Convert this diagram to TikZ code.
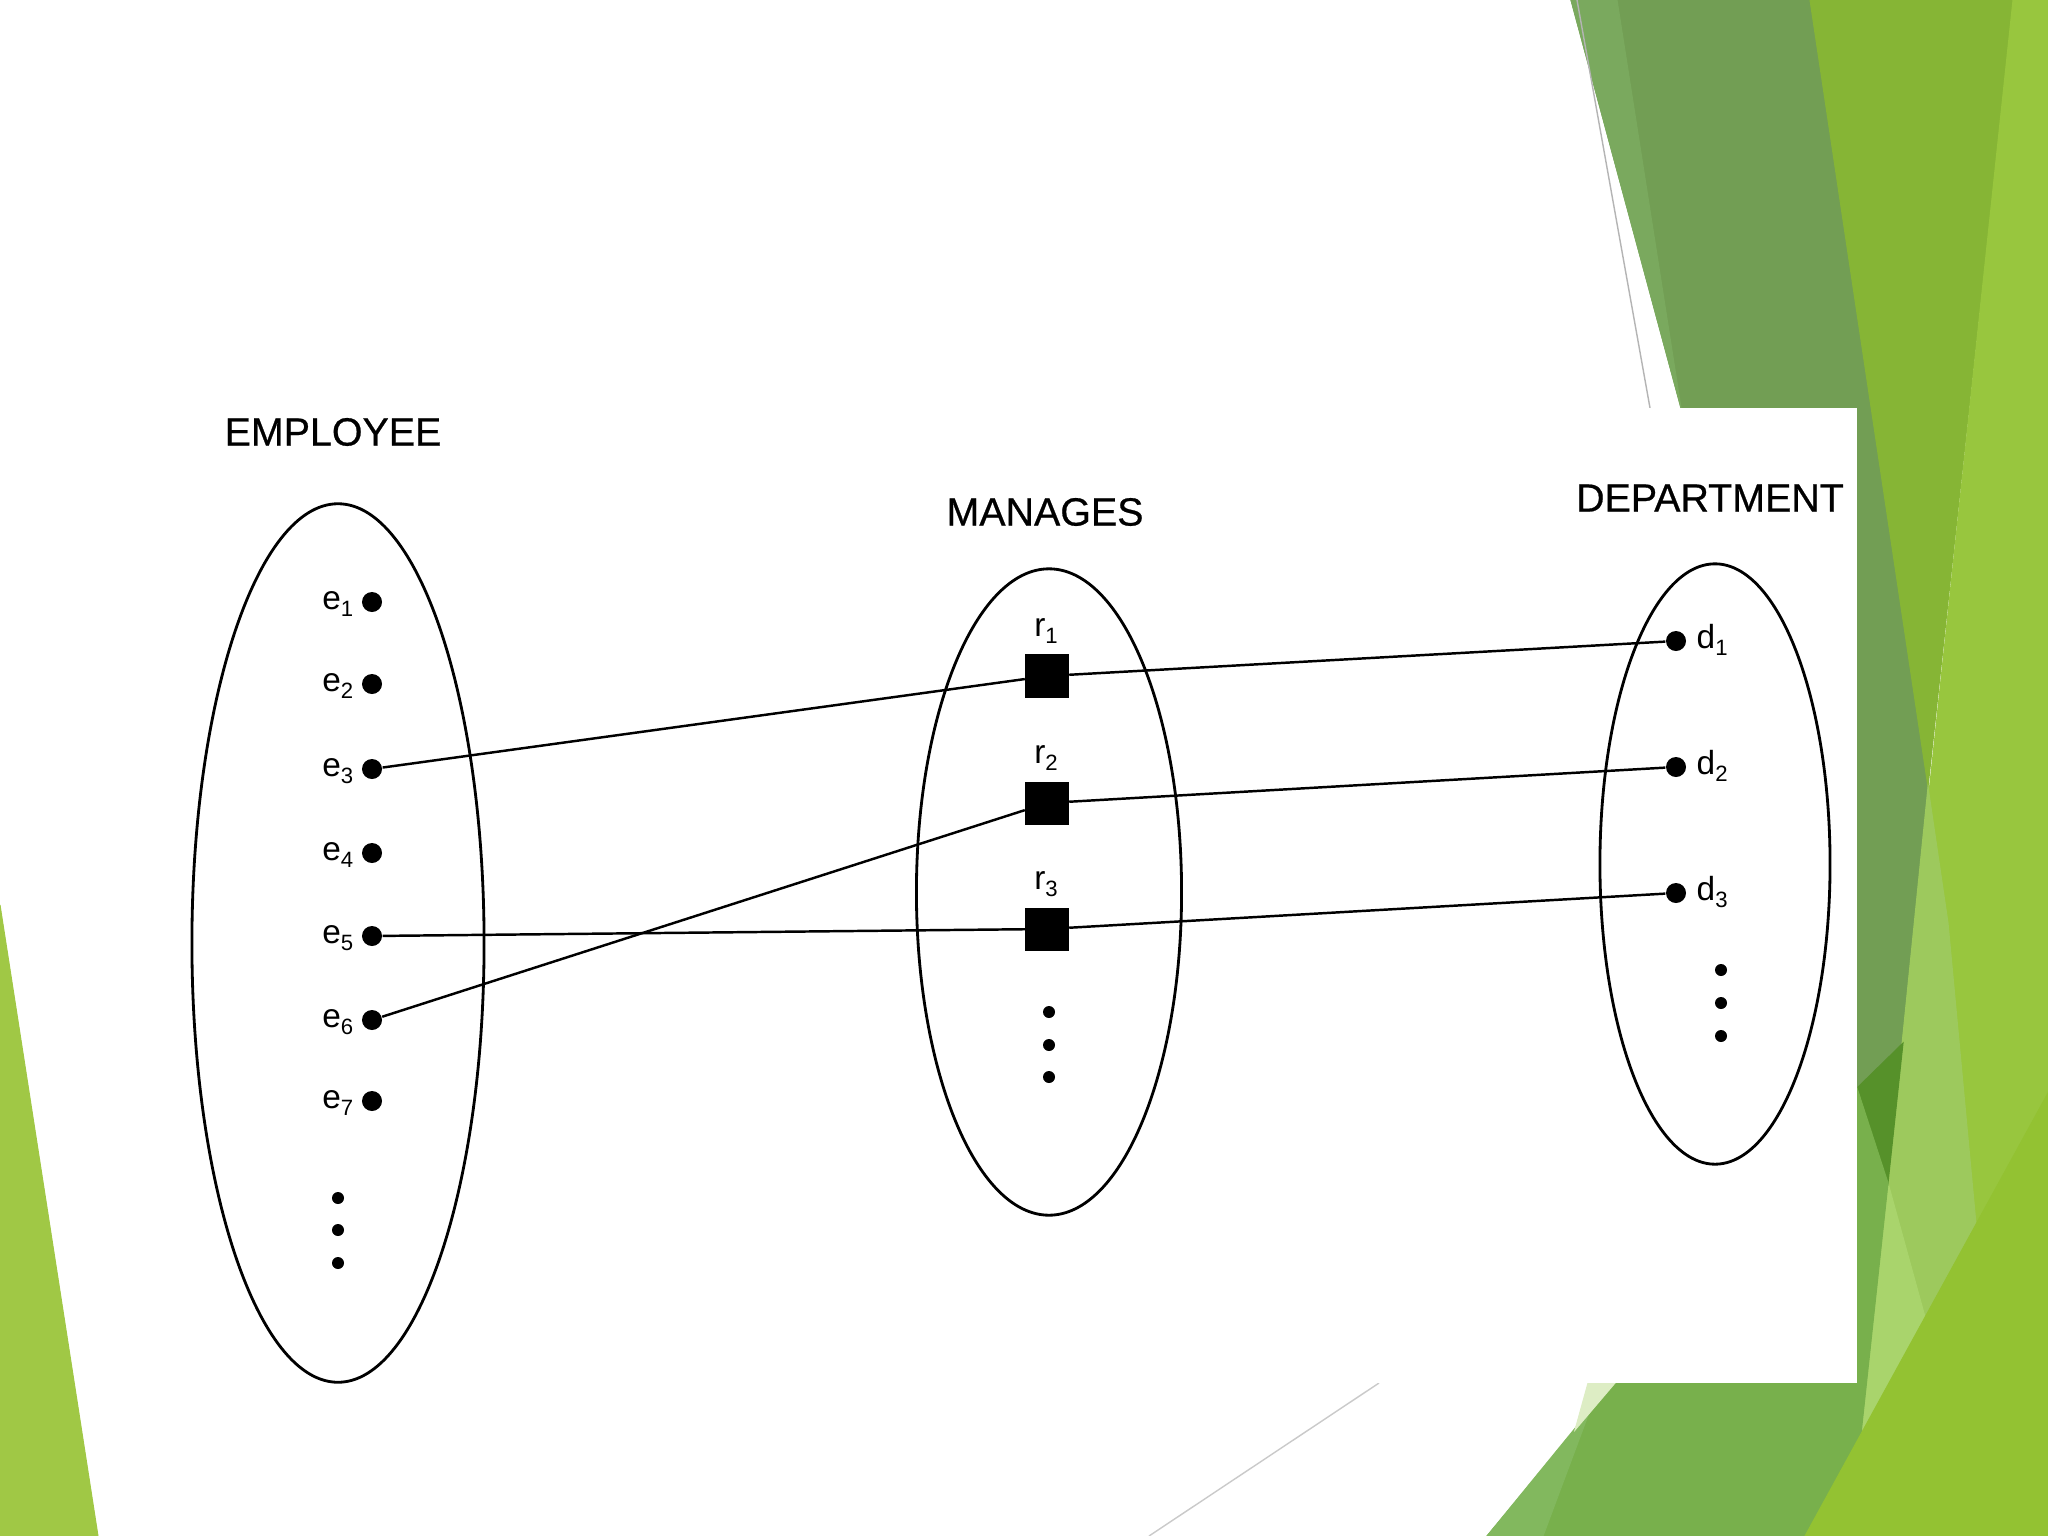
\documentclass[tikz,border=0pt]{standalone}
\usepackage{fontspec}
\setmainfont{Liberation Sans}
\newfontfamily\titlefont[FakeBold=0.6]{Liberation Sans}
\usetikzlibrary{shapes.geometric}
\definecolor{gA}{HTML}{729E54}
\definecolor{gAl}{HTML}{7AA95E}
\definecolor{gB}{HTML}{86B535}
\definecolor{gC}{HTML}{98C63E}
\definecolor{gD}{HTML}{93C232}
\definecolor{gE}{HTML}{78B04C}
\definecolor{gEl}{HTML}{82B85E}
\definecolor{gF}{HTML}{56912A}
\definecolor{gG}{HTML}{9DC95D}
\definecolor{gGl}{HTML}{A9D46C}
\definecolor{gL}{HTML}{A0C845}
\definecolor{gPale}{HTML}{DDEDC4}
\definecolor{lineGrey}{HTML}{B4B4B4}
\newcommand{\lab}[2]{#1\raisebox{-2.2pt}{\fontsize{6.3}{7}\selectfont #2}}
\begin{document}
\begin{tikzpicture}[x=0.01cm,y=-0.01cm,
  title/.style={font=\titlefont\fontsize{11.2}{13}\selectfont, inner sep=0pt},
  lbl/.style={font=\fontsize{9.5}{11}\selectfont, inner sep=0pt},
  ent/.style={circle, fill=black, inner sep=0pt, minimum size=0.20cm},
  rel/.style={rectangle, fill=black, inner sep=0pt, minimum size=0.43cm},
  sdot/.style={circle, fill=black, inner sep=0pt, minimum size=0.12cm},
  eset/.style={ellipse, draw=black, line width=0.8pt, inner sep=0pt},
  link/.style={line width=0.7pt},
  bg/.style={fill=#1, draw=#1, line width=0.3pt}]
\useasboundingbox (0,0) rectangle (2048,1536);
\fill[white] (0,0) rectangle (2048,1536);
% background shapes
\filldraw[bg=gL] (0,905) -- (98,1536) -- (0,1536) -- cycle;
\filldraw[bg=gA] (1571,0) -- (1810,0) -- (1928,787) -- (1903,1043) -- (1857,1088) -- (1857,408) -- (1681,408) -- cycle;
\filldraw[bg=gAl] (1571,0) -- (1617,0) -- (1681,408) -- cycle;
\filldraw[bg=gB] (1810,0) -- (2013,0) -- (1928,787) -- cycle;
\filldraw[bg=gC] (2013,0) -- (2048,0) -- (2048,1093) -- (1861,1434) -- cycle;
\filldraw[bg=gG] (1928,787) -- (1948,923) -- (1976,1224) -- (1925,1317) -- (1888,1183) -- cycle;
\filldraw[bg=gGl] (1888,1183) -- (1925,1317) -- (1861,1434) -- cycle;
\filldraw[bg=gF] (1857,1088) -- (1903,1043) -- (1888,1183) -- cycle;
\filldraw[bg=gE] (1487,1536) -- (1615,1383) -- (1857,1383) -- (1857,1088) -- (1888,1183) -- (1861,1434) -- (1805,1536) -- cycle;
\filldraw[bg=gEl] (1590,1410) -- (1487,1536) -- (1543,1536) -- cycle;
\filldraw[bg=gPale] (1588,1383) -- (1615,1383) -- (1575,1430) -- cycle;
\filldraw[bg=gD] (1805,1536) -- (2048,1093) -- (2048,1536) -- cycle;
\draw[lineGrey, line width=0.4pt] (1577,0) -- (1650,408);
\draw[lineGrey!70, line width=0.4pt] (1149,1536) -- (1379,1383);
% white picture area
\fill[white] (130,408) rectangle (1857,1383);
% sets
\node[eset, minimum width=2.92cm, minimum height=8.78cm] (emp) at (338,943) {};
\node[eset, minimum width=2.65cm, minimum height=6.46cm] (man) at (1049,892) {};
\node[eset, minimum width=2.30cm, minimum height=6.00cm] (dep) at (1715,864) {};
% titles
\node[title] (tEmp) at (333,432) {EMPLOYEE};
\node[title] (tMan) at (1045,512) {MANAGES};
\node[title] (tDep) at (1710,498) {DEPARTMENT};
% entities
\foreach \i/\y in {1/602,2/684,3/769,4/853,5/936,6/1020,7/1101}{
  \node[ent] (e\i) at (372,\y) {};
  \node[lbl, anchor=base east] (le\i) at (354,\y+7) {\lab{e}{\i}};
}
\foreach \i/\y in {1/676,2/803,3/929}{
  \node[rel] (r\i) at (1047,\y) {};
  \node[lbl, anchor=base] (lr\i) at (1046,\y-40) {\lab{r}{\i}};
}
\foreach \i/\y in {1/641,2/767,3/893}{
  \node[ent] (d\i) at (1676,\y) {};
  \node[lbl, anchor=base west] (ld\i) at (1696,\y+7) {\lab{d}{\i}};
}
% ellipsis dots
\foreach \k/\y in {1/1198,2/1230,3/1263}{\node[sdot] (ee\k) at (338,\y) {};}
\foreach \k/\y in {1/1012,2/1045,3/1077}{\node[sdot] (rr\k) at (1049,\y) {};}
\foreach \k/\y in {1/970,2/1003,3/1036}{\node[sdot] (dd\k) at (1721,\y) {};}
% connectors
\draw[link] (e3) -- (r1);
\draw[link] (r1) -- (d1);
\draw[link] (e6) -- (r2);
\draw[link] (r2) -- (d2);
\draw[link] (e5) -- (r3);
\draw[link] (r3) -- (d3);
\end{tikzpicture}
\end{document}
